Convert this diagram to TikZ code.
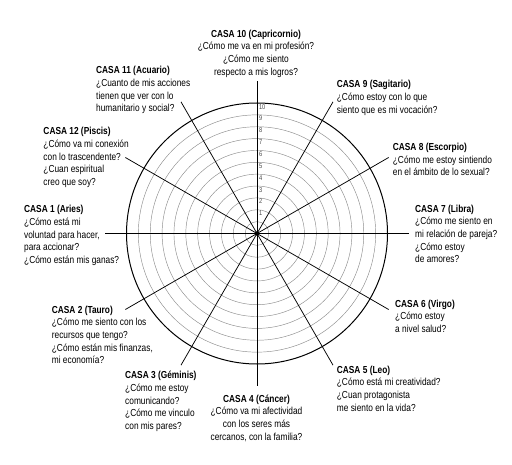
\documentclass[tikz,border=0pt]{standalone}
\usepackage{fontspec}
\setmainfont{Liberation Sans}[FakeStretch=0.82]
\usetikzlibrary{calc}

\begin{document}
\begin{tikzpicture}[x=1bp, y=-1bp,
  casa/.style={anchor=north west, align=left, inner sep=0pt, font=\fontsize{10.2}{12.7}\selectfont},
  ring/.style={draw=black!45, line width=0.45bp},
  spoke/.style={draw=black, line width=0.75bp},
  num/.style={anchor=north west, inner sep=0pt, text=black!70, font=\fontsize{7}{7}\selectfont}
]
  \useasboundingbox (0,0) rectangle (512,465);
  \coordinate (c) at (257,233.5);

  % Rings
  \foreach \j in {1,...,10} {
    \draw[ring] (c) circle ({130.5*\j/11});
  }
  \draw[black, line width=1bp] (c) circle (130.5);

  % Spokes
  \foreach \i in {0,...,11} {
    \coordinate (s\i) at ($(c)+(30*\i:152)$);
    \draw[spoke] (c) -- (s\i);
  }
  \fill (c) circle (2.3);

  % Scale
  \foreach \k in {1,...,10} {
    \node[num] (n\k) at ($(c)+(1.8,{-130.5*(\k+1)/11+1})$) {\k};
  }

  % Houses
  \node[casa, anchor=north, align=center] (casa10) at (256,29.5) {\textbf{CASA 10 (Capricornio)}\\¿Cómo me va en mi profesión?\\¿Cómo me siento\\respecto a mis logros?};
  \node[casa] (casa11) at (96,66.2) {\textbf{CASA 11 (Acuario)}\\¿Cuanto de mis acciones\\tienen que ver con lo\\humanitario y social?};
  \node[casa] (casa9) at (336.7,80.2) {\textbf{CASA 9 (Sagitario)}\\¿Cómo estoy con lo que\\siento que es mi vocación?};
  \node[casa] (casa12) at (43.3,127.2) {\textbf{CASA 12 (Piscis)}\\¿Cómo va mi conexión\\con lo trascendente?\\¿Cuan espiritual\\creo que soy?};
  \node[casa] (casa8) at (392.7,142.9) {\textbf{CASA 8 (Escorpio)}\\¿Cómo me estoy sintiendo\\en el ámbito de lo sexual?};
  \node[casa] (casa1) at (24,205.2) {\textbf{CASA 1 (Aries)}\\¿Cómo está mi\\voluntad para hacer,\\para accionar?\\¿Cómo están mis ganas?};
  \node[casa] (casa7) at (415,204.5) {\textbf{CASA 7 (Libra)}\\¿Cómo me siento en\\mi relación de pareja?\\¿Cómo estoy\\de amores?};
  \node[casa] (casa2) at (51.7,305.5) {\textbf{CASA 2 (Tauro)}\\¿Cómo me siento con los\\recursos que tengo?\\¿Cómo están mis finanzas,\\mi economía?};
  \node[casa] (casa6) at (395,299.5) {\textbf{CASA 6 (Virgo)}\\¿Cómo estoy\\a nivel salud?};
  \node[casa] (casa3) at (125,371.2) {\textbf{CASA 3 (Géminis)}\\¿Cómo me estoy\\comunicando?\\¿Cómo me vinculo\\con mis pares?};
  \node[casa] (casa5) at (336.7,365.5) {\textbf{CASA 5 (Leo)}\\¿Cómo está mi creatividad?\\¿Cuan protagonista\\me siento en la vida?};
  \node[casa, anchor=north, align=center] (casa4) at (256.5,394.5) {\textbf{CASA 4 (Cáncer)}\\¿Cómo va mi afectividad\\con los seres más\\cercanos, con la familia?};
\end{tikzpicture}
\end{document}
